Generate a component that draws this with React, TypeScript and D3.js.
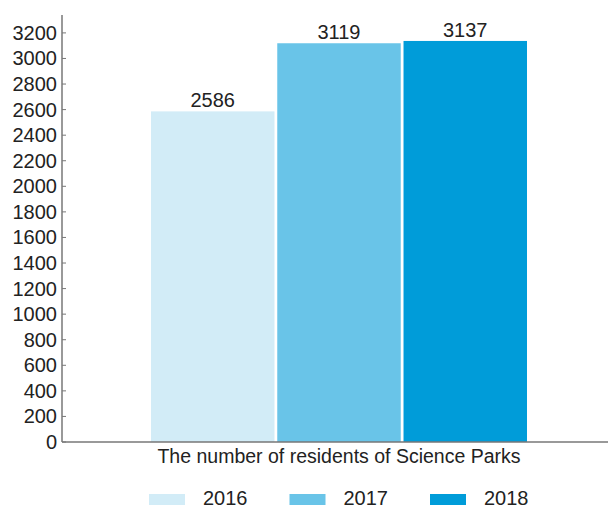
import React from "react";
import * as d3 from "d3";

const categories = ["The number of residents of Science Parks"];
const years = ["2016", "2017", "2018"];
const values = [2586, 3119, 3137];
const colors = ["#d2ecf7", "#69c4e8", "#009cd9"];
const yTicks = d3.range(0, 3201, 200);

const W = 608;
const H = 509;
const FONT = "'Liberation Sans', Arial, sans-serif";

export default function App() {
  const y = d3.scaleLinear().domain([0, 3340]).range([442, 15]);
  const x0 = d3.scaleBand().domain(categories).range([151, 527]);
  const x1 = d3
    .scaleBand()
    .domain(years)
    .range([0, x0.bandwidth()])
    .paddingInner(0.022);
  const axisX = 62;
  const legendX = d3.scalePoint().domain(years).range([149, 430]);

  return (
    <svg
      width={W}
      height={H}
      style={{ position: "absolute", left: 0, top: 0, background: "#fff" }}
      fontFamily={FONT}
    >
      {categories.map((c) => (
        <g key={c} transform={`translate(${x0(c)},0)`}>
          {years.map((yr, i) => (
            <g key={yr}>
              <rect
                x={x1(yr)}
                y={y(values[i])}
                width={x1.bandwidth()}
                height={y(0) - y(values[i])}
                fill={colors[i]}
              />
              <text
                x={(x1(yr) as number) + x1.bandwidth() / 2}
                y={y(values[i]) - 4}
                textAnchor="middle"
                fontSize={20}
                fill="#222"
              >
                {values[i]}
              </text>
            </g>
          ))}
          <text
            x={x0.bandwidth() / 2}
            y={463}
            textAnchor="middle"
            fontSize={19.5}
            fill="#222"
          >
            {c}
          </text>
        </g>
      ))}
      {/* y axis */}
      <line x1={axisX} x2={axisX} y1={y(3340)} y2={y(0)} stroke="#777" strokeWidth={1.5} />
      {yTicks.map((t) => (
        <g key={t}>
          <line x1={axisX} x2={axisX + 4} y1={y(t)} y2={y(t)} stroke="#777" strokeWidth={1} />
          <text
            x={axisX - 5}
            y={y(t)}
            dy="0.35em"
            textAnchor="end"
            fontSize={20}
            fill="#222"
          >
            {t}
          </text>
        </g>
      ))}
      {/* x axis */}
      <line x1={axisX} x2={608} y1={y(0)} y2={y(0)} stroke="#777" strokeWidth={1.5} />
      {/* legend */}
      {years.map((yr, i) => (
        <g key={yr} transform={`translate(${legendX(yr)},0)`}>
          <rect x={0} y={494} width={36} height={11} fill={colors[i]} />
          <text x={54} y={505} fontSize={20} fill="#222">
            {yr}
          </text>
        </g>
      ))}
    </svg>
  );
}
